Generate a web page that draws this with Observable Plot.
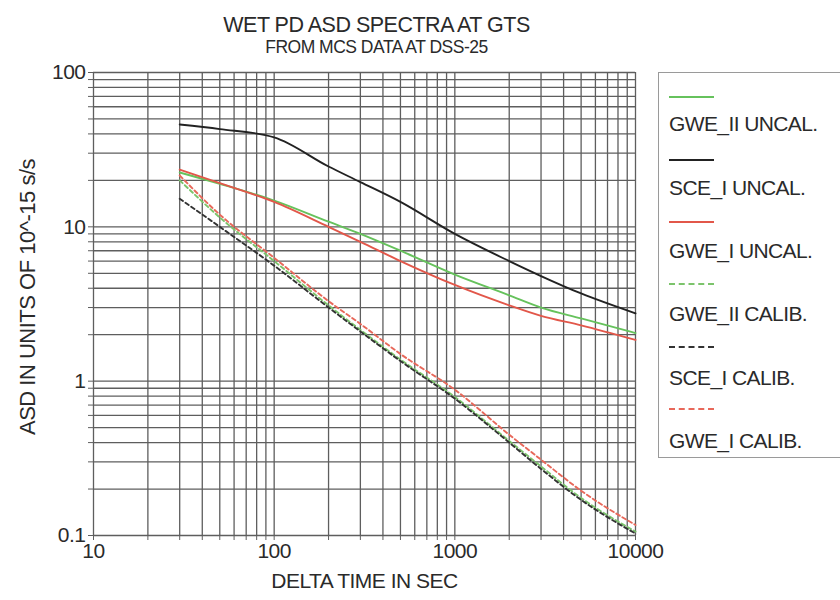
<!DOCTYPE html>
<html>
<head>
<meta charset="utf-8">
<script src="https://cdn.jsdelivr.net/npm/d3@7"></script>
<script src="https://cdn.jsdelivr.net/npm/@observablehq/plot@0.6"></script>
<style>
  body { margin: 0; background: #fff; font-family: "Liberation Sans", Arial, sans-serif; }
  #wrap { position: relative; width: 840px; height: 600px; overflow: hidden; }
  #chart { position: absolute; left: 0; top: 0; }
  #legend { position: absolute; left: 658px; top: 72px; width: 200px; height: 386px;
            border: 1.5px solid #9a9a9a; box-sizing: border-box; background: #fff; }
  .swatch { position: absolute; left: 10px; width: 45px; height: 0; }
  .name { position: absolute; left: 10px; white-space: nowrap; font-size: 21px; line-height: 21px;
          color: #2a2a2a; letter-spacing: -0.6px; }
</style>
</head>
<body>
<div id="wrap">
  <div id="chart"></div>
  <div id="legend"></div>
</div>
<script>
// Wet path-delay Allan standard deviation, sampled at delta times (s)
const times = [30, 50, 100, 200, 300, 500, 1000, 2000, 3000, 5000, 10000];

const gweIIUncal = [22.5, 19, 14.8, 10.8, 9.0, 7.0, 4.9, 3.6, 3.0, 2.55, 2.05];
const sceIUncal  = [46, 43, 38, 24.6, 19.5, 14.5, 9.0, 6.0, 4.8, 3.7, 2.75];
const gweIUncal  = [23.5, 19.2, 14.5, 10.0, 8.0, 6.0, 4.2, 3.1, 2.65, 2.3, 1.85];
const gweIICalib = [20, 11.5, 6.0, 3.1, 2.15, 1.38, 0.79, 0.41, 0.28, 0.175, 0.106];
const sceICalib  = [15.2, 10, 5.6, 3.0, 2.1, 1.35, 0.77, 0.40, 0.27, 0.17, 0.103];
const gweICalib  = [21.5, 12, 6.3, 3.3, 2.35, 1.5, 0.88, 0.45, 0.31, 0.195, 0.117];

const seriesNames = ["GWE_II UNCAL.", "SCE_I UNCAL.", "GWE_I UNCAL.",
                     "GWE_II CALIB.", "SCE_I CALIB.", "GWE_I CALIB."];
const seriesValues = [gweIIUncal, sceIUncal, gweIUncal, gweIICalib, sceICalib, gweICalib];
const seriesColors = ["#66c25c", "#222222", "#e2574a", "#7cc46c", "#333333", "#e8685a"];
const seriesDashed = [false, false, false, true, true, true];

const xTickValues = [10, 100, 1000, 10000];
const xTickLabels = ["10", "100", "1000", "10000"];
const yTickValues = [0.1, 1, 10, 100];
const yTickLabels = ["0.1", "1", "10", "100"];

const titleText = "WET PD ASD SPECTRA AT GTS";
const subtitleText = "FROM MCS DATA AT DSS-25";
const xLabel = "DELTA TIME IN SEC";
const yLabel = "ASD IN UNITS OF 10^-15 s/s";

// 1-2-...-9 grid within each decade
const xGrid = [10, 20, 30, 40, 50, 60, 70, 80, 90, 100, 200, 300, 400, 500, 600, 700, 800, 900,
               1000, 2000, 3000, 4000, 5000, 6000, 7000, 8000, 9000, 10000];
const yGrid = [0.1, 0.2, 0.3, 0.4, 0.5, 0.6, 0.7, 0.8, 0.9, 1, 2, 3, 4, 5, 6, 7, 8, 9,
               10, 20, 30, 40, 50, 60, 70, 80, 90, 100];

const rows = seriesNames.flatMap((name, s) =>
  times.map((t, i) => ({t, v: seriesValues[s][i], name, s})));

// uncalibrated curves first, calibrated dashed curves over them
const order = [0, 2, 1, 3, 5, 4];
const lineMarks = order.map(s => Plot.line(rows.filter(d => d.s === s), {
  x: "t", y: "v", curve: "monotone-x",
  stroke: seriesColors[s], strokeWidth: 1.9,
  strokeDasharray: seriesDashed[s] ? "4,3" : null
}));

const gridColor = "#5e5e5e";
const chart = Plot.plot({
  width: 840, height: 600,
  marginLeft: 93, marginRight: 205, marginTop: 72, marginBottom: 65,
  style: {fontFamily: "Liberation Sans, Arial, sans-serif", fontSize: "21px", color: "#2a2a2a",
          background: "#fff", letterSpacing: "-0.5px"},
  x: {type: "log", domain: [10, 10000]},
  y: {type: "log", domain: [0.1, 100]},
  marks: [
    Plot.ruleX(xGrid, {stroke: gridColor, strokeWidth: 1.3}),
    Plot.ruleY(yGrid, {stroke: gridColor, strokeWidth: 1.3}),
    Plot.axisX(xGrid, {tickSize: 5, tickPadding: 3, stroke: gridColor, label: null,
      tickFormat: d => { const k = xTickValues.indexOf(d); return k < 0 ? "" : xTickLabels[k]; }}),
    Plot.axisY(yGrid, {tickSize: 5, tickPadding: 3, stroke: gridColor, label: null,
      tickFormat: d => { const k = yTickValues.indexOf(d); return k < 0 ? "" : yTickLabels[k]; }}),
    ...lineMarks,
    Plot.text([xLabel], {frameAnchor: "bottom", dy: 52, fontSize: 21, fill: "#2a2a2a"}),
    Plot.text([yLabel], {frameAnchor: "left", textAnchor: "middle", rotate: -90,
      dx: -66, dy: -7, fontSize: 22, fill: "#2a2a2a"}),
    Plot.text([titleText], {frameAnchor: "top", dx: 12, dy: -56, fontSize: 21.5, fill: "#2a2a2a"}),
    Plot.text([subtitleText], {frameAnchor: "top", dx: 12, dy: -32, fontSize: 17.5, fill: "#2a2a2a"})
  ]
});
document.getElementById("chart").appendChild(chart);

// legend: a short line sample above each label
const legend = document.getElementById("legend");
const swatchTops = [23, 86, 148, 210, 273, 335];
const nameTops = [40, 104, 167, 230, 294, 357];
seriesNames.forEach((name, s) => {
  const sw = document.createElement("div");
  sw.className = "swatch";
  sw.style.top = swatchTops[s] + "px";
  sw.style.borderTop = `2px ${seriesDashed[s] ? "dashed" : "solid"} ${seriesColors[s]}`;
  legend.appendChild(sw);
  const label = document.createElement("div");
  label.className = "name";
  label.style.top = nameTops[s] + "px";
  label.textContent = name;
  legend.appendChild(label);
});
</script>
</body>
</html>
